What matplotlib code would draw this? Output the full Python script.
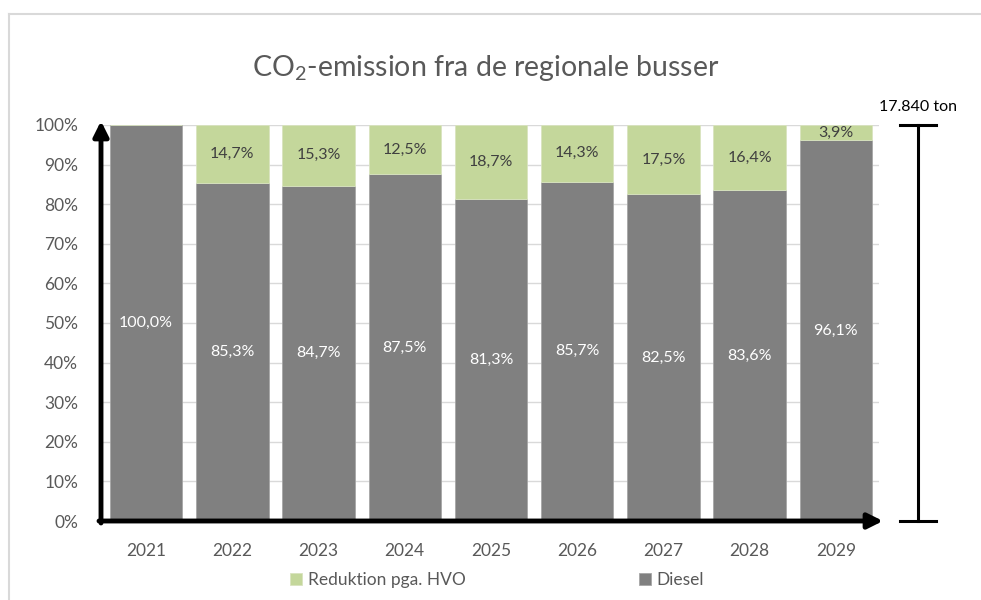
import matplotlib.pyplot as plt
from matplotlib.lines import Line2D
from matplotlib.ticker import PercentFormatter

years = ['2021', '2022', '2023', '2024', '2025', '2026', '2027', '2028', '2029']
diesel = [100.0, 85.3, 84.7, 87.5, 81.3, 85.7, 82.5, 83.6, 96.1]
hvo_reduction = [0.0, 14.7, 15.3, 12.5, 18.7, 14.3, 17.5, 16.4, 3.9]
total_label = '17.840 ton'

grey = '#808080'
green = '#c4d79b'
text_col = '#595959'

plt.rcParams['font.family'] = ['Lato', 'DejaVu Sans']
plt.rcParams['mathtext.fontset'] = 'custom'
plt.rcParams['mathtext.rm'] = 'Lato'
plt.rcParams['mathtext.default'] = 'regular'

W, H = 981, 600
fig = plt.figure(figsize=(W / 100, H / 100), dpi=100)

# light frame round the chart (top and left edge visible)
fig.add_artist(Line2D([8.5 / W, 8.5 / W], [0, (H - 13.5) / H], color='#d9d9d9', lw=1.5))
fig.add_artist(Line2D([8.5 / W, 1], [(H - 13.5) / H, (H - 13.5) / H], color='#d9d9d9', lw=1.5))

x0, x1, y0, y1 = 103, 879, 521, 125
ax = fig.add_axes([x0 / W, (H - y0) / H, (x1 - x0) / W, (y0 - y1) / H])

x = list(range(len(years)))
ax.bar(x, diesel, width=0.84, color=grey, edgecolor='#a6a6a6', linewidth=0.6, zorder=2, label='Diesel')
ax.bar(x, hvo_reduction, bottom=diesel, width=0.84, color=green, edgecolor='#d9e4c0', linewidth=0.6,
       zorder=2, label='Reduktion pga. HVO')

for i in x:
    ax.text(i, diesel[i] / 2, f'{diesel[i]:.1f}%'.replace('.', ','), ha='center', va='center',
            color='white', fontsize=11.5)
    if hvo_reduction[i] > 0:
        ax.text(i, diesel[i] + hvo_reduction[i] / 2, f'{hvo_reduction[i]:.1f}%'.replace('.', ','),
                ha='center', va='center', color='#404040', fontsize=11.5)

ax.set_xlim(-0.5, len(years) - 0.5)
ax.set_ylim(0, 100)
ax.set_yticks(range(0, 101, 10))
ax.yaxis.set_major_formatter(PercentFormatter(100, decimals=0))
ax.set_xticks(x)
ax.set_xticklabels(years)
ax.tick_params(axis='both', length=0, labelsize=12.5, colors=text_col)
ax.tick_params(axis='x', pad=16)
ax.tick_params(axis='y', pad=18)
ax.grid(axis='y', color='#d9d9d9', lw=1, zorder=0)
ax.set_axisbelow(True)
for s in ax.spines.values():
    s.set_visible(False)

# black arrow axes
arrow = dict(arrowstyle='-|>,head_length=0.9,head_width=0.45', color='black', lw=3.5,
             shrinkA=0, shrinkB=0)
fig_px = lambda px, py: (px / W, (H - py) / H)
ax.annotate('', xy=fig_px(883, 521), xytext=fig_px(99, 521),
            xycoords='figure fraction', textcoords='figure fraction', arrowprops=arrow)
ax.annotate('', xy=fig_px(101, 121), xytext=fig_px(101, 523),
            xycoords='figure fraction', textcoords='figure fraction', arrowprops=arrow)

# I-beam showing the total
bx = 918
fig.add_artist(Line2D([bx / W, bx / W], [(H - 521) / H, (H - 125) / H], color='black', lw=2.2))
for yy in (125, 521):
    fig.add_artist(Line2D([900 / W, 936 / W], [(H - yy) / H, (H - yy) / H], color='black', lw=2.2))
fig.text(918 / W, (H - 107) / H, total_label, ha='center', va='center', fontsize=11.5, color='black')

fig.text(486 / W, (H - 68) / H, 'CO$_2$-emission fra de regionale busser', ha='center', va='center',
         fontsize=20.5, color=text_col)

handles, labels = ax.get_legend_handles_labels()
leg = fig.legend(handles[::-1], labels[::-1], loc='center', bbox_to_anchor=(497 / W, (H - 580) / H),
                 ncol=2, frameon=False, fontsize=12.5, handlelength=0.7, handleheight=0.7,
                 handletextpad=0.3, columnspacing=10)
for t in leg.get_texts():
    t.set_color(text_col)

fig.savefig('out.png', dpi=100, facecolor='white')
